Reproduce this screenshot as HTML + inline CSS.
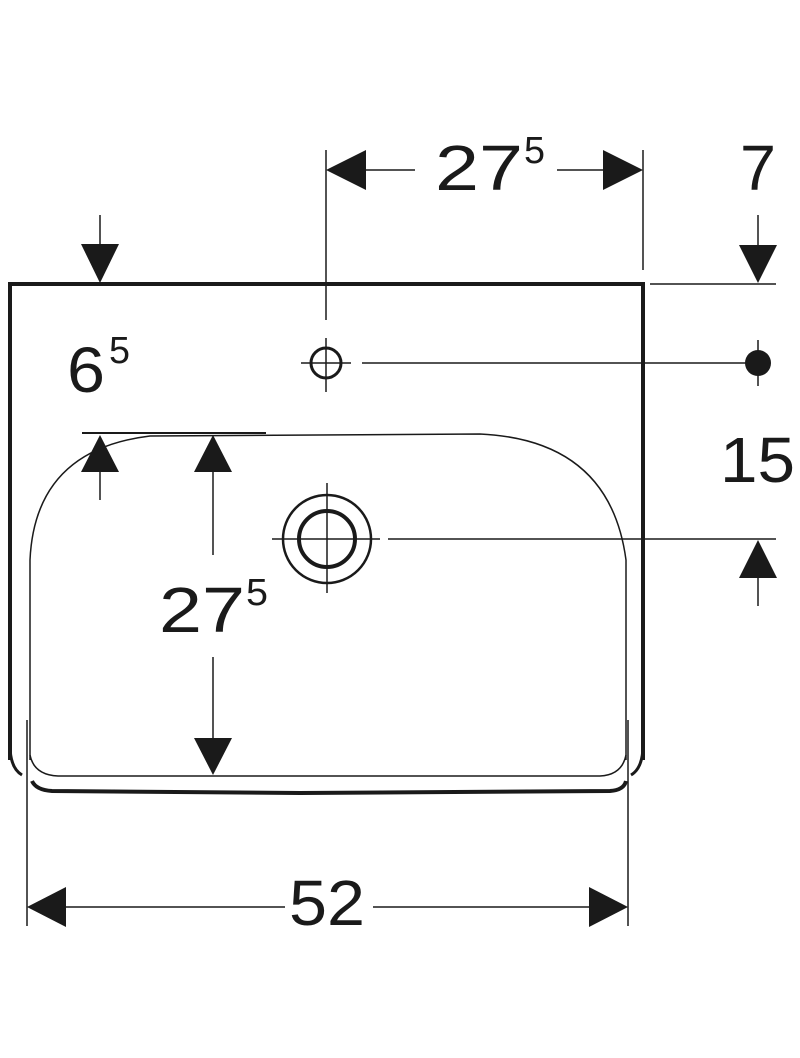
<!DOCTYPE html>
<html><head><style>
html,body{margin:0;padding:0;background:#fff;}
svg{display:block;}
text{font-family:"Liberation Sans",sans-serif;fill:#1a1a1a;}
</style></head><body>
<svg width="800" height="1058" viewBox="0 0 800 1058" xmlns="http://www.w3.org/2000/svg">
<g stroke="#1a1a1a" fill="none">
  <path d="M10 760 L10 284 L643 284 L643 760" stroke-width="4"/>
  <path d="M10 745 Q10 768 22 775" stroke-width="3"/>
  <path d="M643 745 Q643 768 631 775" stroke-width="3"/>
  <path d="M32 781 Q36 790 52 791 L300 793 L610 791 Q624 790 626 781" stroke-width="4"/>
  <path d="M30 760 L30 560 Q35 450 150 436 L480 434 Q610 440 626 560 L626 760" stroke-width="1.5"/>
  <path d="M30 755 Q34 775 58 776 L600 776 Q622 775 626 755" stroke-width="1.5"/>
  <line x1="27" y1="720" x2="27" y2="926" stroke-width="1.5"/>
  <line x1="628" y1="720" x2="628" y2="926" stroke-width="1.5"/>
  <line x1="326" y1="150" x2="326" y2="320" stroke-width="1.5"/>
  <line x1="643" y1="150" x2="643" y2="270" stroke-width="1.5"/>
  <line x1="650" y1="284" x2="776" y2="284" stroke-width="1.5"/>
  <line x1="82" y1="433" x2="266" y2="433" stroke-width="2"/>
  <line x1="60" y1="907" x2="285" y2="907" stroke-width="1.5"/>
  <line x1="373" y1="907" x2="600" y2="907" stroke-width="1.5"/>
  <line x1="360" y1="170" x2="415" y2="170" stroke-width="1.5"/>
  <line x1="557" y1="170" x2="610" y2="170" stroke-width="1.5"/>
  <line x1="100" y1="215" x2="100" y2="250" stroke-width="1.5"/>
  <line x1="100" y1="470" x2="100" y2="500" stroke-width="1.5"/>
  <line x1="213" y1="470" x2="213" y2="555" stroke-width="1.5"/>
  <line x1="213" y1="657" x2="213" y2="740" stroke-width="1.5"/>
  <line x1="758" y1="215" x2="758" y2="250" stroke-width="1.5"/>
  <line x1="758" y1="575" x2="758" y2="606" stroke-width="1.5"/>
  <circle cx="326" cy="363" r="15" stroke-width="3"/>
  <line x1="301" y1="363" x2="351" y2="363" stroke-width="1.5"/>
  <line x1="326" y1="338" x2="326" y2="392" stroke-width="1.5"/>
  <line x1="362" y1="363" x2="760" y2="363" stroke-width="1.5"/>
  <line x1="758" y1="340" x2="758" y2="386" stroke-width="1.5"/>
  <circle cx="327" cy="539" r="44" stroke-width="2.5"/>
  <circle cx="327" cy="539" r="28" stroke-width="4"/>
  <line x1="272" y1="539" x2="380" y2="539" stroke-width="1.5"/>
  <line x1="327" y1="483" x2="327" y2="593" stroke-width="1.5"/>
  <line x1="388" y1="539" x2="776" y2="539" stroke-width="1.5"/>
</g>
<g fill="#1a1a1a">
  <circle cx="758" cy="363" r="13"/>
  <polygon points="27,907 66,887 66,927"/>
  <polygon points="628,907 589,887 589,927"/>
  <polygon points="326,170 366,150 366,190"/>
  <polygon points="643,170 603,150 603,190"/>
  <polygon points="100,283 81,244 119,244"/>
  <polygon points="100,435 81,472 119,472"/>
  <polygon points="213,435 194,472 232,472"/>
  <polygon points="213,775 194,738 232,738"/>
  <polygon points="758,283 739,245 777,245"/>
  <polygon points="758,540 739,578 777,578"/>
</g>
<g>
  <text x="435" y="190" font-size="64" textLength="88" lengthAdjust="spacingAndGlyphs">27</text>
  <text x="524" y="163" font-size="38" textLength="21" lengthAdjust="spacingAndGlyphs">5</text>
  <text x="740" y="190" font-size="64" textLength="36" lengthAdjust="spacingAndGlyphs">7</text>
  <text x="720" y="482" font-size="64" textLength="75" lengthAdjust="spacingAndGlyphs">15</text>
  <text x="67" y="392" font-size="64" textLength="38" lengthAdjust="spacingAndGlyphs">6</text>
  <text x="109" y="363" font-size="38" textLength="21" lengthAdjust="spacingAndGlyphs">5</text>
  <text x="159" y="632" font-size="64" textLength="86" lengthAdjust="spacingAndGlyphs">27</text>
  <text x="246" y="605" font-size="38" textLength="22" lengthAdjust="spacingAndGlyphs">5</text>
  <text x="289" y="925" font-size="64" textLength="76" lengthAdjust="spacingAndGlyphs">52</text>
</g>
</svg>
</body></html>
